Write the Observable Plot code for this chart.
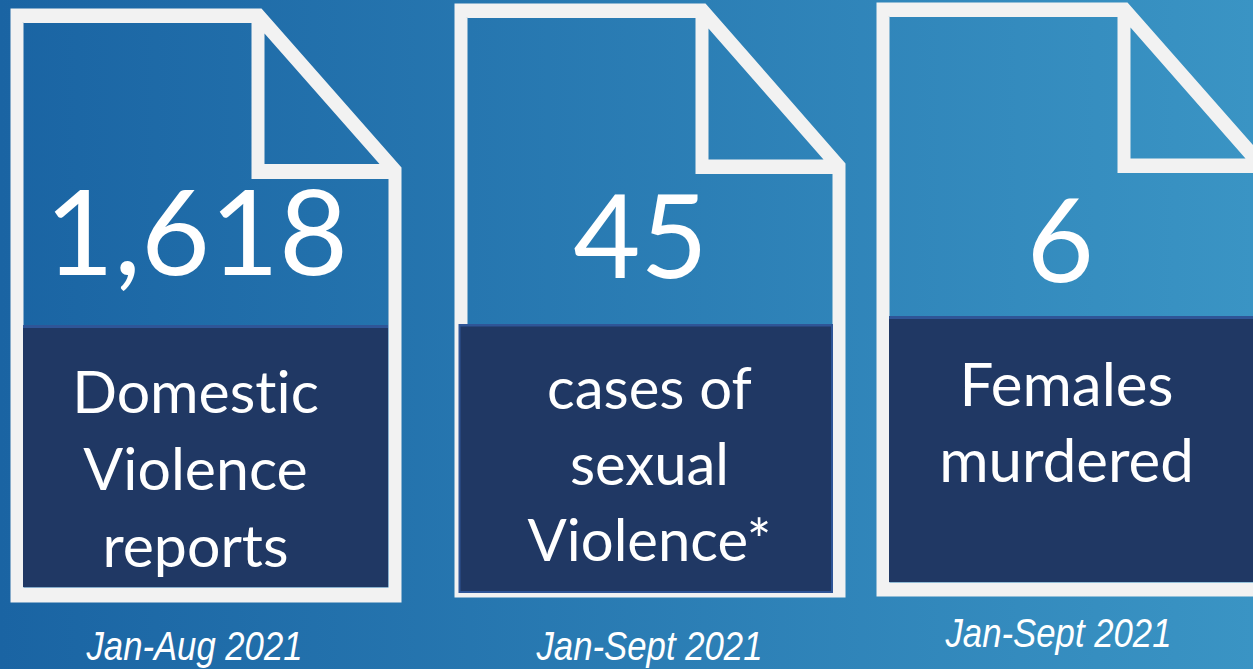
<!DOCTYPE html>
<html><head><meta charset="utf-8">
<script src="https://cdn.jsdelivr.net/npm/d3@7"></script>
<script src="https://cdn.jsdelivr.net/npm/@observablehq/plot@0.6"></script>
<style>html,body{margin:0;padding:0;overflow:hidden;width:1253px;height:669px}svg{display:block}svg text{font-variant-ligatures:none;font-feature-settings:"liga" 0}</style>
</head><body><div id="c"></div>
<script>
const cardIds=["a","b","c"];
const outerX=[[10,261,401,401,10],[454,705,845,845,454],[876,1127,1267,1267,876]];
const outerY=[[8,8,167,602,602],[3,3,163,597,597],[2,2,161,596,596]];
const holeX=[[23,23,388,388,251,251],[467,467,832,832,695,695],[889,889,1254,1254,1117,1117]];
const holeY=[[22.5,587,587,178.5,178.5,22.5],[17.5,582,582,173.5,173.5,17.5],[16.5,582,582,172.5,172.5,16.5]];
const triX=[[264,264,379],[708,708,823],[1130,1130,1245]];
const triY=[[33,163.5,163.5],[28,159,159],[27,158,158]];
const borderX1=[23,458.5,889],borderX2=[388,833,1253],borderY1=[325,324,316],borderY2=[587,593,582];
const panelX1=[23,460.5,889],panelX2=[388,831,1253],panelY1=[328,326.5,319],panelY2=[587,591,582];
const numbers=["1,618","45","6"];
const numberX=[196,640,1060];
const numberY=[236,240,244];
const numberSizes=[119,116,116];
const labelLines=[["Domestic","Violence","reports"],["cases of","sexual","Violence*"],["Females","murdered"]];
const labelX=[195,649,1066];
const labelY=[[394,471,548],[390,466,542],[386,462]];
const labelSizes=[59,58,60];
const periods=["Jan-Aug 2021","Jan-Sept 2021","Jan-Sept 2021"];
const periodWidths=[216,226,226];
const periodX=[194,649,1058];
const periodY=[647,647,634];

const frames=cardIds.flatMap((id,i)=>{
  const pts=[];
  const ox=outerX[i],oy=outerY[i],hx=holeX[i],hy=holeY[i],tx=triX[i],ty=triY[i];
  ox.forEach((x,k)=>pts.push([x,oy[k]]));
  pts.push([ox[0],oy[0]]);
  hx.forEach((x,k)=>pts.push([x,hy[k]]));
  pts.push([hx[0],hy[0]]);
  pts.push([ox[0],oy[0]]);
  pts.push([ox[1],oy[1]]);
  tx.forEach((x,k)=>pts.push([x,ty[k]]));
  pts.push([tx[0],ty[0]]);
  pts.push([ox[1],oy[1]]);
  return pts.map(p=>({id,x:p[0],y:p[1]}));
});
const borders=cardIds.map((id,i)=>({x1:borderX1[i],x2:borderX2[i],y1:borderY1[i],y2:borderY2[i]}));
const panels=cardIds.map((id,i)=>({x1:panelX1[i],x2:panelX2[i],y1:panelY1[i],y2:panelY2[i]}));
const labels=labelLines.flatMap((ls,i)=>ls.map((t,j)=>({t,x:labelX[i],y:labelY[i][j],s:labelSizes[i]})));
const nums=numbers.map((t,i)=>({t,x:numberX[i],y:numberY[i],s:numberSizes[i]}));
const pers=periods.map((t,i)=>({t,x:periodX[i],y:periodY[i]}));

function gradientBg(index,scales,values,dims){
  const ns="http://www.w3.org/2000/svg";
  const g=document.createElementNS(ns,"g");
  const defs=document.createElementNS(ns,"defs");
  const lg=document.createElementNS(ns,"linearGradient");
  lg.setAttribute("id","bg");
  [["0%","#1a64a3"],["100%","#3a94c4"]].forEach(([o,c])=>{
    const s=document.createElementNS(ns,"stop");s.setAttribute("offset",o);s.setAttribute("stop-color",c);lg.appendChild(s);
  });
  defs.appendChild(lg);g.appendChild(defs);
  const r=document.createElementNS(ns,"rect");
  r.setAttribute("width",dims.width);r.setAttribute("height",dims.height);r.setAttribute("fill","url(#bg)");
  g.appendChild(r);
  return g;
}
const font="Lato";
const chart=Plot.plot({
  width:1253,height:669,margin:0,
  x:{domain:[0,1253],range:[0,1253],axis:null},
  y:{domain:[0,669],range:[0,669],axis:null},
  style:{background:"transparent"},
  marks:[
    gradientBg,
    Plot.line(frames,{x:"x",y:"y",z:"id",fill:"#f2f2f2",stroke:"none",curve:"linear"}),
    Plot.rect(borders,{x1:"x1",x2:"x2",y1:"y1",y2:"y2",fill:"#2f5597"}),
    Plot.rect(panels,{x1:"x1",x2:"x2",y1:"y1",y2:"y2",fill:"#203864"}),
    Plot.text(nums,{x:"x",y:"y",text:"t",fill:"#fff",fontSize:"s",fontFamily:font,textAnchor:"middle",lineAnchor:"middle"}),
    Plot.text(labels,{x:"x",y:"y",text:"t",fill:"#fff",fontSize:"s",fontFamily:font,textAnchor:"middle",lineAnchor:"middle"}),
    Plot.text(pers,{x:"x",y:"y",text:"t",fill:"#fff",fontSize:40,fontStyle:"italic",fontFamily:"'Liberation Sans'",textAnchor:"middle",lineAnchor:"middle",className:"period"})
  ]
});
chart.querySelectorAll(".period text").forEach((t,i)=>{
  t.setAttribute("textLength",periodWidths[i]);
  t.setAttribute("lengthAdjust","spacingAndGlyphs");
});
document.getElementById("c").appendChild(chart);
</script></body></html>
